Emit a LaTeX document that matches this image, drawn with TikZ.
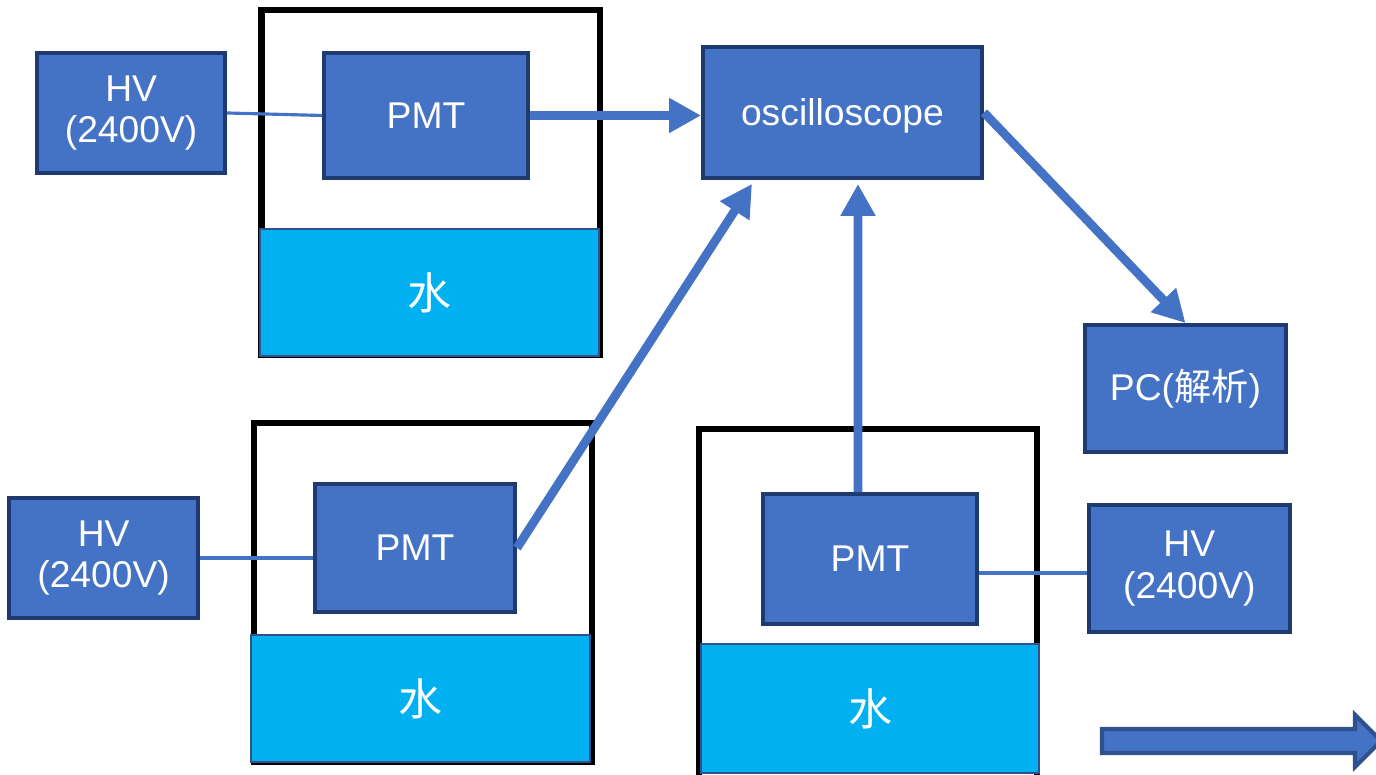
\documentclass[tikz,border=0pt]{standalone}
\usepackage{fontspec}
\setmainfont{Liberation Sans}
\newfontfamily\cjk{Noto Sans CJK SC}
\usepackage{tikz}
\usetikzlibrary{positioning}
\usetikzlibrary{arrows.meta}
\definecolor{boxblue}{HTML}{4472C4}
\definecolor{boxedge}{HTML}{1F3A70}
\definecolor{waterblue}{HTML}{00B0F0}
\definecolor{wateredge}{HTML}{2F528F}
\tikzset{
    node distance=1cm,
    box/.style={
        draw=boxedge,
        line width=1.1pt,
        fill=boxblue,
        text=white,
        inner sep=0pt,
        align=center,
        font=\fontsize{10.6}{11.9}\selectfont
    },
    tank/.style={
        draw=black,
        line width=1.8pt,
        inner sep=0pt
    },
    water/.style={
        draw=wateredge,
        line width=0.8pt,
        fill=waterblue,
        text=white,
        inner sep=0pt,
        font=\fontsize{12.5}{14}\selectfont\cjk
    },
    wire/.style={
        draw=boxblue,
        line width=0.9pt
    },
    signal/.style={
        draw=boxblue,
        line width=2.5pt,
        -{Triangle[length=3.2mm,width=3.3mm]}
    }
}

\begin{document}
\begin{tikzpicture}
    \useasboundingbox (0,0) rectangle (13.76,-7.75);

    % water tanks
    \node[tank, minimum width=3.385cm, minimum height=3.45cm] (tank1) at (4.3075,-1.825) {};
    \node[water, minimum width=3.39cm, minimum height=1.27cm] (water1) at (4.295,-2.925) {水};
    \node[tank, minimum width=3.38cm, minimum height=3.39cm] (tank2) at (4.23,-5.925) {};
    \node[water, minimum width=3.39cm, minimum height=1.27cm] (water2) at (4.205,-6.985) {水};
    \node[tank, minimum width=3.38cm, minimum height=3.51cm] (tank3) at (8.68,-6.045) {};
    \node[water, minimum width=3.38cm, minimum height=1.29cm] (water3) at (8.70,-7.085) {水};

    % PMTs and their HV supplies
    \node[box, minimum width=2.04cm, minimum height=1.25cm] (pmt1) at (4.26,-1.155) {PMT};
    \node[box, minimum width=1.88cm, minimum height=1.20cm, left=0.95cm of pmt1, yshift=0.25mm] (hv1) {HV\\(2400V)};
    \node[box, minimum width=2.00cm, minimum height=1.28cm] (pmt2) at (4.15,-5.48) {PMT};
    \node[box, minimum width=1.89cm, minimum height=1.20cm, left=1.13cm of pmt2, yshift=-1mm] (hv2) {HV\\(2400V)};
    \node[box, minimum width=2.14cm, minimum height=1.30cm] (pmt3) at (8.70,-5.59) {PMT};
    \node[box, minimum width=2.01cm, minimum height=1.27cm, right=1.08cm of pmt3, yshift=-0.95mm] (hv3) {HV\\(2400V)};

    \node[box, minimum width=2.79cm, minimum height=1.31cm, text depth=0pt] (osc) at (8.425,-1.125) {oscilloscope};
    \node[box, minimum width=2.01cm, minimum height=1.27cm] (pc) at (11.855,-3.885) {PC({\cjk 解析})};

    % HV cables
    \draw[wire] (hv1.east) -- (pmt1.west);
    \draw[wire] (hv2.east) -- (hv2.east -| pmt2.west);
    \draw[wire] ([yshift=-1.4mm]pmt3.east) -- ([yshift=-1.4mm]pmt3.east -| hv3.west);

    % signals
    \draw[signal] (pmt1.east) -- (pmt1.east -| osc.west);
    \draw[signal] (pmt2.east) -- ([xshift=-9.05mm,yshift=-0.4mm]osc.south);
    \draw[signal] ([xshift=-1.2mm]pmt3.north) -- ([xshift=1.55mm,yshift=-0.4mm]osc.south);
    \draw[signal] (osc.east) -- (pc.north);

    % block arrow
    \draw[draw=wateredge, line width=1.2pt, fill=boxblue]
        (11.02,-7.29) -- (13.55,-7.29) -- (13.55,-7.15) -- (13.81,-7.41)
        -- (13.55,-7.67) -- (13.55,-7.53) -- (11.02,-7.53) -- cycle;
\end{tikzpicture}
\end{document}
